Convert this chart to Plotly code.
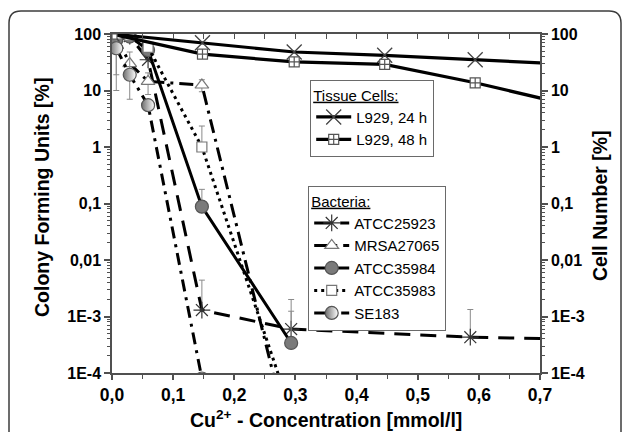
import plotly.graph_objects as go

# ---------------- data ----------------
x_bact = [0.007, 0.029, 0.059, 0.147, 0.293, 0.586, 0.75]
x_tissue = [0.0, 0.148, 0.298, 0.446, 0.594, 0.75]

atcc25923 = [95, 92, 35, 1.3e-3, 6.0e-4, 4.3e-4, 4.0e-4]
atcc25923_err = [0, 0, 0, 3.1e-3, 1.4e-3, 0.9e-3, 0]

mrsa27065 = [90, 30, 14.5, 12.5, 5e-6]
mrsa27065_err_p = [0, 0, 6, 3, 0]
mrsa27065_err_m = [0, 0, 6, 3, 0]

atcc35984 = [78, 90, 52, 0.088, 3.4e-4]
atcc35984_err_p = [0, 0, 0, 0.09, 9e-4]
atcc35984_err_m = [59, 0, 0, 0, 0]

atcc35983 = [100, 95, 58, 1.0, 2e-5]
atcc35983_err = [0, 0, 0, 1.35, 0]

se183 = [56, 19, 5.5, 8e-5]
se183_err_p = [44, 29, 0, 0]
se183_err_m = [46, 12, 0, 0]

l929_24h = [100, 70, 48, 42, 35, 29]
l929_48h = [100, 44, 32, 29, 13.7, 5.5]

x_ticks = [0.0, 0.1, 0.2, 0.3, 0.4, 0.5, 0.6, 0.7]
x_ticktext = ["0,0", "0,1", "0,2", "0,3", "0,4", "0,5", "0,6", "0,7"]
y_ticks = [1e-4, 1e-3, 1e-2, 1e-1, 1, 10, 100]
y_ticktext = ["1E-4", "1E-3", "0,01", "0,1", "1", "10", "100"]

# ---------------- layout helpers ----------------
W, H = 629, 432
PL, PR, PT, PB = 112, 540, 34, 373


def px_x(px):
    return (px - PL) / (PR - PL)


def px_y(py):
    return (PB - py) / (PB - PT)


FONT = "Liberation Sans, Arial, sans-serif"
ERR_COLOR = "#8a8a8a"

fig = go.Figure()


def err(plus, minus=None):
    if minus is None:
        minus = [0] * len(plus)
    return dict(type="data", array=plus, arrayminus=minus, symmetric=False,
                color=ERR_COLOR, thickness=1, width=3, visible=True)


# tissue cells (right axis)
fig.add_trace(go.Scatter(
    x=x_tissue, y=l929_24h, name="L929, 24 h", yaxis="y2", legend="legend",
    mode="lines+markers", cliponaxis=True,
    line=dict(color="black", width=3.2),
    marker=dict(symbol="x-thin-open", size=15, color="#444", line=dict(color="#444", width=1.3)),
))
fig.add_trace(go.Scatter(
    x=x_tissue, y=l929_48h, name="L929, 48 h", yaxis="y2", legend="legend",
    mode="lines+markers", cliponaxis=True,
    line=dict(color="black", width=3.2),
    marker=dict(symbol="square-cross", size=10, color="white", line=dict(color="#555", width=1.2)),
))

# bacteria (left axis)
fig.add_trace(go.Scatter(
    x=x_bact, y=atcc25923, name="ATCC25923", legend="legend2",
    mode="lines+markers", cliponaxis=True,
    line=dict(color="black", width=3, dash="16px,10px"),
    marker=dict(symbol="asterisk-open", size=14, color="#333", line=dict(color="#333", width=1.2)),
    error_y=err(atcc25923_err),
))
fig.add_trace(go.Scatter(
    x=x_bact[:5], y=mrsa27065, name="MRSA27065", legend="legend2",
    mode="lines+markers", cliponaxis=True,
    line=dict(color="black", width=3, dash="14px,6px,3px,6px"),
    marker=dict(symbol="triangle-up", size=12, color="white", line=dict(color="#777", width=1.2)),
    error_y=err(mrsa27065_err_p, mrsa27065_err_m),
))
fig.add_trace(go.Scatter(
    x=x_bact[:5], y=atcc35984, name="ATCC35984", legend="legend2",
    mode="lines+markers", cliponaxis=True,
    line=dict(color="black", width=3),
    marker=dict(symbol="circle", size=13, color="#7a7a7a", line=dict(color="#555", width=1.2)),
    error_y=err(atcc35984_err_p, atcc35984_err_m),
))
fig.add_trace(go.Scatter(
    x=x_bact[:5], y=atcc35983, name="ATCC35983", legend="legend2",
    mode="lines+markers", cliponaxis=True,
    line=dict(color="black", width=3, dash="3px,4px"),
    marker=dict(symbol="square", size=10, color="white", line=dict(color="#777", width=1.2)),
    error_y=err(atcc35983_err),
))
fig.add_trace(go.Scatter(
    x=x_bact[:4], y=se183, name="SE183", legend="legend2",
    mode="lines+markers", cliponaxis=True,
    line=dict(color="black", width=3, dash="12px,6px,3px,6px"),
    marker=dict(symbol="circle", size=13, color="#6f6f6f",
                gradient=dict(type="horizontal", color="white"),
                line=dict(color="#555", width=1.2)),
    error_y=err(se183_err_p, se183_err_m),
))

axis_col = "#505050"
tickfont_y = dict(family=FONT, size=16, color="black", weight="bold")
tickfont_x = dict(family=FONT, size=17.5, color="black", weight="bold")

minor_y = []
for k in range(-4, 2):
    for m in range(2, 10):
        minor_y.append(m * 10 ** k)

legend_common = dict(
    bgcolor="white", bordercolor="#6a6a6a", borderwidth=1.2,
    font=dict(family=FONT, size=15, color="black"),
    xanchor="left", yanchor="top", itemwidth=35, tracegroupgap=0,
    title_font=dict(family=FONT, size=15, color="black"),
)

fig.update_layout(
    width=W, height=H,
    margin=dict(l=PL, r=W - PR, t=PT, b=H - PB),
    paper_bgcolor="white", plot_bgcolor="white",
    font=dict(family=FONT, color="black"),
    xaxis=dict(
        range=[0, 0.7], tickvals=x_ticks, ticktext=x_ticktext,
        ticks="outside", ticklen=5, tickwidth=1.5, tickcolor=axis_col,
        minor=dict(ticks="outside", ticklen=4, tickwidth=1.2, tickcolor=axis_col, dtick=0.05, tick0=0),
        showline=True, linecolor=axis_col, linewidth=1.5,
        showgrid=False, zeroline=False, tickfont=tickfont_x,
    ),
    xaxis2=dict(
        range=[0, 0.7], overlaying="x", side="top", matches="x",
        tickvals=[i * 0.05 for i in range(15)], ticks="inside", ticklen=5, tickwidth=1.2,
        tickcolor=axis_col, showticklabels=False,
        showline=True, linecolor=axis_col, linewidth=1.5, showgrid=False, zeroline=False,
    ),
    yaxis=dict(
        type="log", range=[-4, 2], tickvals=y_ticks, ticktext=y_ticktext,
        ticks="outside", ticklen=6, tickwidth=1.5, tickcolor=axis_col,
        minor=dict(ticks="outside", ticklen=3, tickwidth=1, tickcolor=axis_col, tickvals=minor_y),
        showline=True, linecolor=axis_col, linewidth=1.5,
        showgrid=False, zeroline=False, tickfont=tickfont_y,
    ),
    yaxis2=dict(
        type="log", range=[-4, 2], overlaying="y", side="right",
        tickvals=y_ticks, ticktext=y_ticktext,
        ticks="outside", ticklen=6, tickwidth=1.5, tickcolor=axis_col,
        minor=dict(ticks="outside", ticklen=3, tickwidth=1, tickcolor=axis_col, tickvals=minor_y),
        showline=True, linecolor=axis_col, linewidth=1.5,
        showgrid=False, zeroline=False, tickfont=tickfont_y,
    ),
    legend=dict(x=px_x(310), y=px_y(80), title_text="<u>Tissue Cells:</u>", **legend_common),
    legend2=dict(x=px_x(308), y=px_y(186), title_text="<u>Bacteria:</u>", **legend_common),
    showlegend=True,
)

# invisible trace on xaxis2 so the top axis is drawn
fig.add_trace(go.Scatter(x=[0.35], y=[1], xaxis="x2", mode="markers",
                         marker=dict(opacity=0), showlegend=False, hoverinfo="skip"))

# axis titles
TITLE_SIZE = 19.5
fig.add_annotation(text="<b>Colony Forming Units [%]</b>", textangle=-90,
                   xref="paper", yref="paper", x=px_x(42), y=px_y(198),
                   showarrow=False, font=dict(family=FONT, size=TITLE_SIZE, color="black"),
                   xanchor="center", yanchor="middle")
fig.add_annotation(text="<b>Cell Number [%]</b>", textangle=-90,
                   xref="paper", yref="paper", x=px_x(600), y=px_y(206),
                   showarrow=False, font=dict(family=FONT, size=TITLE_SIZE, color="black"),
                   xanchor="center", yanchor="middle")
fig.add_annotation(text="<b>Cu<sup>2+</sup> - Concentration [mmol/l]</b>",
                   xref="paper", yref="paper", x=px_x(326), y=px_y(419),
                   showarrow=False, font=dict(family=FONT, size=TITLE_SIZE, color="black"),
                   xanchor="center", yanchor="middle")

# rounded outer frame
r = 12
xl, xr, yt, yb = 9, 621, 11, 450
path = (f"M {px_x(xl)},{px_y(yb)} L {px_x(xl)},{px_y(yt + r)} "
        f"Q {px_x(xl)},{px_y(yt)} {px_x(xl + r)},{px_y(yt)} "
        f"L {px_x(xr - r)},{px_y(yt)} "
        f"Q {px_x(xr)},{px_y(yt)} {px_x(xr)},{px_y(yt + r)} "
        f"L {px_x(xr)},{px_y(yb)}")
fig.add_shape(type="path", path=path, xref="paper", yref="paper",
              line=dict(color="#3c3c3c", width=1.5), layer="below")

fig.write_html("out.html")
